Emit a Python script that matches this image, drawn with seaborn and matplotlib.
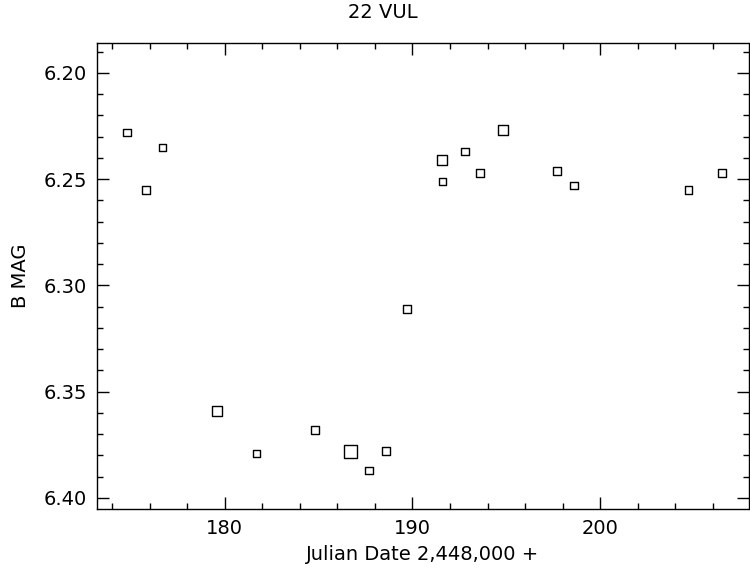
import pandas as pd
import seaborn as sns
import matplotlib.pyplot as plt
from matplotlib.ticker import MultipleLocator, FormatStrFormatter

julian_date = [174.8, 175.8, 176.7, 179.6, 181.7, 184.8, 186.7, 187.7, 188.6, 189.7,
               191.6, 191.6, 192.8, 193.6, 194.8, 197.7, 198.6, 204.7, 206.5]
b_mag = [6.228, 6.255, 6.235, 6.359, 6.379, 6.368, 6.378, 6.387, 6.378, 6.311,
         6.241, 6.251, 6.237, 6.247, 6.227, 6.246, 6.253, 6.255, 6.247]
point_size = ['small', 'small', 'small', 'medium', 'small', 'small', 'large', 'small',
              'small', 'small', 'medium', 'small', 'small', 'small', 'medium', 'small',
              'small', 'small', 'small']

df = pd.DataFrame({'jd': julian_date, 'bmag': b_mag, 'size': point_size})

sns.set_style('ticks')
plt.rcParams['font.family'] = ['DejaVu Sans']
plt.rcParams['text.color'] = 'black'
plt.rcParams['axes.labelcolor'] = 'black'
plt.rcParams['xtick.color'] = 'black'
plt.rcParams['ytick.color'] = 'black'

fig = plt.figure(figsize=(7.5, 5.8), dpi=100)
ax = fig.add_axes([0.1293, 0.1224, 0.8687, 0.8034])

sns.scatterplot(data=df, x='jd', y='bmag', size='size', marker='s',
                sizes={'small': 30, 'medium': 52, 'large': 92},
                color='black', linewidth=1.0, legend=False, ax=ax)
ax.collections[0].set_facecolor('none')
ax.collections[0].set_edgecolor('black')

ax.set_xlim(173.2, 207.9)
ax.set_ylim(6.4052, 6.1859)

ax.xaxis.set_major_locator(MultipleLocator(10))
ax.xaxis.set_minor_locator(MultipleLocator(2))
ax.yaxis.set_major_locator(MultipleLocator(0.05))
ax.yaxis.set_minor_locator(MultipleLocator(0.01))
ax.yaxis.set_major_formatter(FormatStrFormatter('%.2f'))

ax.tick_params(which='both', direction='in', top=True, right=True, color='black',
               labelcolor='black', labelsize=14, width=1.0)
ax.tick_params(which='major', length=8.5, pad=7)
ax.tick_params(which='minor', length=4)
for s in ax.spines.values():
    s.set_linewidth(1.0)
    s.set_color('black')

ax.set_xlabel('Julian Date 2,448,000 +', fontsize=14, labelpad=5)
ax.set_ylabel('B MAG', fontsize=14, labelpad=10)
fig.text(383 / 750, 1 - 12 / 580, '22 VUL', ha='center', va='center', fontsize=14)

fig.savefig('out.png', dpi=100)
